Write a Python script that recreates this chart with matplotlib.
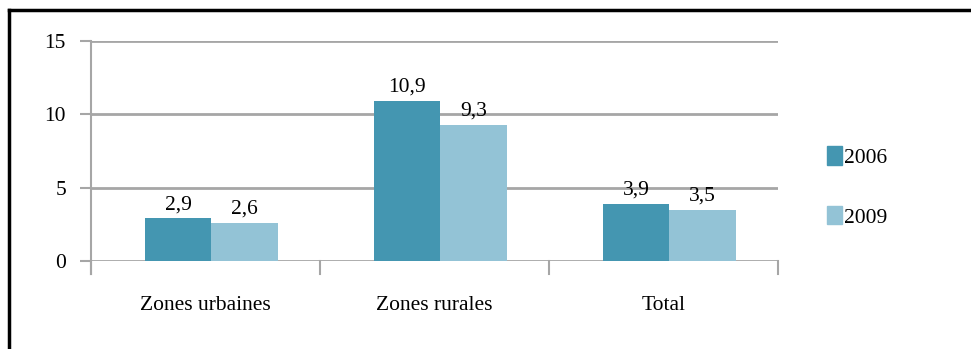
import matplotlib
matplotlib.use("Agg")
import matplotlib.pyplot as plt
from matplotlib.patches import Rectangle
from matplotlib.lines import Line2D
import numpy as np

categories = ["Zones urbaines", "Zones rurales", "Total"]
series_names = ["2006", "2009"]
values_2006 = [2.9, 10.9, 3.9]
values_2009 = [2.6, 9.3, 3.5]
value_labels_2006 = ["2,9", "10,9", "3,9"]
value_labels_2009 = ["2,6", "9,3", "3,5"]
y_ticks = [0, 5, 10, 15]

plt.rcParams["font.family"] = ["Liberation Serif", "DejaVu Serif"]

W, H = 971, 349
fig = plt.figure(figsize=(W / 100, H / 100), dpi=100)

# axes area in pixel terms
left, right, bottom_px, top_px = 91, 778, 261, 41
ax = fig.add_axes([left / W, 1 - bottom_px / H, (right - left) / W, (bottom_px - top_px) / H])

c2006 = "#4496b1"
c2009 = "#93c3d6"
grid_c = "#a6a6a6"
fs = 15.5

x = np.arange(len(categories))
bw = 0.29
off = 0.025
ax.bar(x - bw / 2 + off, values_2006, bw, color=c2006, zorder=3, linewidth=0)
ax.bar(x + bw / 2 + off, values_2009, bw, color=c2009, zorder=3, linewidth=0)

for xi, v, lab in zip(x, values_2006, value_labels_2006):
    ax.text(xi - bw / 2 + off, v + 0.3, lab, ha="center", va="bottom", fontsize=fs, zorder=4)
for xi, v, lab in zip(x, values_2009, value_labels_2009):
    ax.text(xi + bw / 2 + off, v + 0.3, lab, ha="center", va="bottom", fontsize=fs, zorder=4)

ax.set_xlim(-0.5, len(categories) - 0.5)
ax.set_ylim(0, 15)
ax.set_yticks(y_ticks)
ax.set_yticklabels([str(t) for t in y_ticks], fontsize=fs)
for t in y_ticks:
    ax.axhline(t, color=grid_c, lw=2, zorder=1)

ax.set_xticks(x)
ax.set_xticklabels(categories, fontsize=fs)
ax.tick_params(axis="x", length=0, pad=25)
ax.tick_params(axis="y", length=8, width=1.5, color=grid_c, pad=10)

# category separators
for b in np.arange(-0.5, len(categories), 1.0):
    ax.plot([b, b], [0, -0.9], color=grid_c, lw=1.5, clip_on=False, zorder=2)

for s in ["top", "right", "bottom"]:
    ax.spines[s].set_visible(False)
ax.spines["left"].set_color(grid_c)
ax.spines["left"].set_linewidth(1.5)
ax.spines["left"].set_bounds(-0.9, 15)
ax.spines["left"].set_zorder(2)

handles = [Rectangle((0, 0), 1, 1, color=c2006), Rectangle((0, 0), 1, 1, color=c2009)]
fig.legend(handles, series_names, loc="center left", bbox_to_anchor=(808 / W, 1 - 187 / H),
           frameon=False, fontsize=fs, handlelength=0.7, handleheight=0.95,
           handletextpad=0.05, labelspacing=1.75)

# outer frame lines (top and left)
fig.add_artist(Line2D([8.5 / W, 1.0], [1 - 9.5 / H, 1 - 9.5 / H], color="black", lw=2.5,
                      transform=fig.transFigure))
fig.add_artist(Line2D([8.5 / W, 8.5 / W], [0, 1 - 9.5 / H], color="black", lw=2.5,
                      transform=fig.transFigure))

fig.savefig("out.png", dpi=100)
